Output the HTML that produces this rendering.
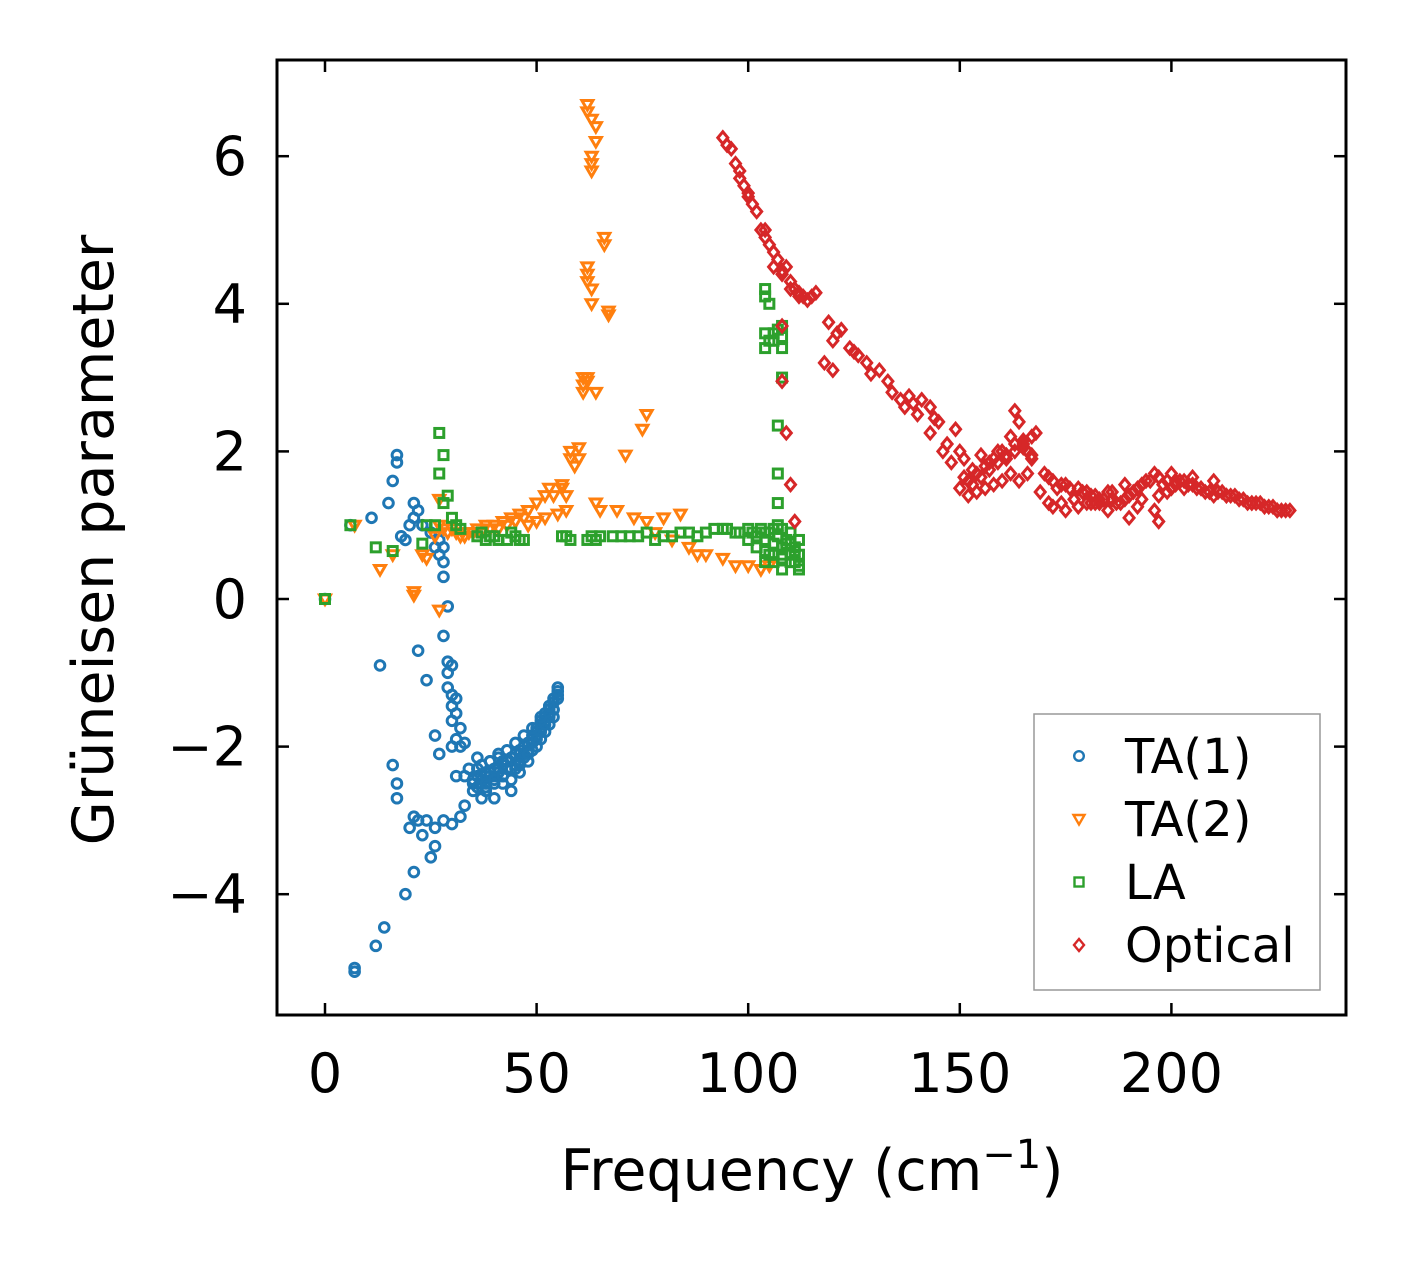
<!DOCTYPE html>
<html><head><meta charset="utf-8"><style>
html,body{margin:0;padding:0;background:#fff;}
svg text{font-family:"DejaVu Sans","Liberation Sans",sans-serif;fill:#000;}
</style></head><body>
<svg id="chart" width="1406" height="1264" viewBox="0 0 1406 1264" xmlns="http://www.w3.org/2000/svg">
<rect x="0" y="0" width="1406" height="1264" fill="#fff"/>
<g id="marks"></g>
<rect x="277" y="60" width="1069" height="955" fill="none" stroke="#000" stroke-width="3"/>
<g id="axes"></g>
<text x="812" y="1190" font-size="57" text-anchor="middle">Frequency (cm<tspan dy="-22" font-size="40">−1</tspan><tspan dy="22">)</tspan></text>
<text transform="translate(113,540) rotate(-90)" font-size="57" text-anchor="middle">Grüneisen parameter</text>
<g>
<rect x="1034" y="714" width="286" height="276" fill="#fff" stroke="#999" stroke-width="1.5"/>
<g id="legend"></g>
</g>
</svg>
<script>
const xTicks=[0,50,100,150,200];
const yTicks=[-4,-2,0,2,4,6];
const seriesNames=["TA(1)","TA(2)","LA","Optical"];
const seriesColors=["#1f77b4","#ff7f0e","#2ca02c","#d62728"];
const ta1X=[0,6,11,15,16,17,17,18,19,20,21,21,22,23,25,26,27,27,28,28,28,29,28,29,30,29,30,31,30,30,31,32,27,26,22,24,13,16,17,17,21,20,22,24,23,26,28,30,32,33,25,26,21,19,14,12,7,7,31,33,35,35,37,38,36,40,40,42,44,42,45,46,47,48,49,50,51,52,53,54,55,55,50,52,53,48,45,43,41,39,38,44,46,47,49,51,54,36,34,37,39,41,43,45,47,49,51,53,50,52,48,46,44,42,40,38,54,55,53,51,
35,36,37,38,39,40,41,42,43,44,45,46,47,48,49,50,51,52,53,54,36,38,40,42,44,46,48,50,52,54,37,39,41,43,45,47,49,51,53,55,29,30,31,32,33];
const ta1Y=[0,1,1.1,1.3,1.6,1.95,1.85,0.85,0.8,1.0,1.1,1.3,1.2,1.0,0.9,0.7,0.8,0.6,0.5,0.7,0.3,-0.1,-0.5,-0.85,-0.9,-1.2,-1.3,-1.35,-1.65,-2.0,-1.9,-2.0,-2.1,-1.85,-0.7,-1.1,-0.9,-2.25,-2.5,-2.7,-2.95,-3.1,-3.0,-3.0,-3.2,-3.1,-3.0,-3.05,-2.95,-2.8,-3.5,-3.35,-3.7,-4.0,-4.45,-4.7,-5.0,-5.05,-2.4,-2.4,-2.5,-2.6,-2.7,-2.6,-2.3,-2.7,-2.4,-2.5,-2.6,-2.2,-2.3,-2.1,-2.0,-2.2,-1.9,-1.8,-1.7,-1.6,-1.5,-1.4,-1.3,-1.2,-2.0,-1.8,-1.7,-1.95,-2.1,-2.3,-2.1,-2.2,-2.35,-2.45,-2.35,-2.15,-2.05,-1.9,-1.6,-2.15,-2.3,-2.5,-2.4,-2.35,-2.2,-2.25,-2.1,-1.95,-1.75,-1.6,-1.85,-1.65,-2.05,-2.2,-2.3,-2.4,-2.5,-2.55,-1.5,-1.35,-1.55,-1.8,
-2.45,-2.4,-2.45,-2.4,-2.35,-2.3,-2.3,-2.25,-2.2,-2.15,-2.1,-2.05,-2.0,-1.95,-1.85,-1.75,-1.65,-1.55,-1.45,-1.35,-2.55,-2.5,-2.45,-2.4,-2.3,-2.25,-2.1,-1.9,-1.7,-1.5,-2.25,-2.2,-2.15,-2.05,-1.95,-1.85,-1.75,-1.6,-1.45,-1.25,-1.0,-1.45,-1.55,-1.75,-1.95];
const ta2X=[0,7,13,16,21,21,23,24,26,27,27,27,28,30,32,34,36,38,40,42,44,46,48,50,52,53,48,50,52,55,57,56,58,58,60,61,61,62,62,62,63,63,63,62,63,64,64,64,65,66,67,69,71,75,76,73,76,80,84,78,82,86,88,90,94,97,100,103,105,
62,62,63,63,64,61,62,57,59,66,67,60,56,54,47,45,43,41,39,37,35,33,31,29];
const ta2Y=[0,1.0,0.4,0.6,0.1,0.05,0.6,0.55,0.85,1.0,1.35,-0.15,0.95,0.95,0.85,0.9,0.95,1.0,1.0,1.05,1.1,1.15,1.2,1.3,1.4,1.5,1.0,1.05,1.1,1.15,1.2,1.5,1.9,2.0,2.05,2.8,3.0,3.0,4.3,4.5,4.0,5.8,6.0,6.7,6.5,6.4,2.8,1.3,1.2,4.8,3.9,1.2,1.95,2.3,2.5,1.1,1.05,1.1,1.15,0.9,0.8,0.7,0.6,0.6,0.55,0.45,0.45,0.4,0.45,
6.6,4.4,5.9,4.2,6.2,2.9,2.95,1.4,1.8,4.9,3.85,1.9,1.55,1.4,1.1,1.05,1.0,0.95,0.95,0.9,0.9,0.85,0.9,0.9];
const laX=[0,6,12,16,23,24,26,27,28,27,28,29,30,31,32,36,38,40,43,45,47,57,58,63,64,70,72,74,78,82,86,88,90,92,95,98,100,102,104,106,108,110,111,112,108,106,104,106,108,110,112,112,104,105,104,105,104,106,108,108,108,107,107,107,107,109,111,103,105,
37,39,41,44,46,56,62,65,68,76,80,84,94,97,101,103,105,107,109,111,102,104,106,108,110,112,100,104,108,110,104,106,107,108];
const laY=[0,1.0,0.7,0.65,0.75,1.0,1.0,2.25,1.95,1.7,1.3,1.4,1.1,1.0,0.95,0.85,0.8,0.85,0.8,0.85,0.8,0.85,0.8,0.85,0.8,0.85,0.85,0.85,0.8,0.85,0.9,0.85,0.9,0.95,0.95,0.9,0.95,0.85,0.8,0.75,0.7,0.6,0.5,0.4,0.4,0.5,0.9,0.95,0.95,0.9,0.8,0.6,4.2,4.0,3.6,3.5,3.4,3.5,3.7,3.4,3.0,2.35,1.7,1.3,1.0,0.8,0.7,0.9,0.6,
0.9,0.85,0.8,0.9,0.8,0.85,0.8,0.85,0.85,0.9,0.85,0.9,0.95,0.9,0.9,0.95,0.9,0.85,0.75,0.65,0.7,0.65,0.6,0.55,0.5,0.45,0.8,0.5,0.6,0.75,4.1,3.6,3.65,3.55];
const opX=[94,96,97,98,99,100,101,103,104,105,106,107,108,109,110,111,112,114,115,108,108,109,110,111,119,120,121,118,120,124,126,129,131,134,136,137,140,141,143,145,143,147,149,150,151,150,152,154,156,158,160,162,163,164,165,166,167,168,166,164,162,160,158,156,154,152,170,172,175,178,180,182,184,172,175,178,182,185,188,190,192,194,196,198,196,197,200,202,204,206,208,210,212,214,216,218,220,222,224,226,228,200,205,210,192,186,190,153,157,161,165,169,173,177,181,185,189,193,197,201,207,213,219,225,
95,98,100,102,104,106,108,110,112,113,116,122,125,128,133,138,139,144,146,148,151,153,155,157,159,161,163,165,167,155,159,163,167,171,174,176,179,181,183,187,189,191,193,195,197,199,201,203,205,207,209,211,213,215,217,219,221,223,225,227,199,203,171,174,177,180,183,186];
const opY=[6.25,6.1,5.9,5.7,5.6,5.5,5.35,5.0,4.9,4.8,4.5,4.6,4.45,4.5,4.3,4.2,4.1,4.05,4.1,3.7,2.95,2.25,1.55,1.05,3.75,3.5,3.6,3.2,3.1,3.4,3.3,3.05,3.1,2.8,2.7,2.6,2.5,2.7,2.6,2.4,2.25,2.1,2.3,2.0,1.9,1.5,1.6,1.7,1.8,1.9,2.0,2.2,2.55,2.4,2.1,2.0,1.9,2.25,1.7,1.6,1.7,1.6,1.55,1.5,1.45,1.4,1.7,1.6,1.55,1.5,1.45,1.4,1.35,1.25,1.2,1.25,1.3,1.2,1.3,1.4,1.5,1.6,1.7,1.55,1.2,1.05,1.5,1.6,1.55,1.5,1.45,1.4,1.45,1.4,1.35,1.3,1.3,1.25,1.25,1.2,1.2,1.7,1.65,1.6,1.25,1.45,1.1,1.75,1.85,1.95,2.05,1.45,1.5,1.35,1.3,1.45,1.55,1.35,1.4,1.6,1.5,1.4,1.3,1.2,
6.15,5.8,5.45,5.25,5.0,4.7,4.4,4.2,4.15,4.1,4.15,3.65,3.35,3.2,2.95,2.75,2.65,2.45,2.0,1.85,1.65,1.55,1.65,1.75,1.85,1.9,2.0,2.15,2.2,1.95,2.0,2.1,1.95,1.65,1.55,1.5,1.45,1.4,1.35,1.3,1.35,1.45,1.55,1.6,1.65,1.6,1.55,1.6,1.55,1.5,1.45,1.45,1.4,1.4,1.35,1.3,1.3,1.25,1.2,1.2,1.45,1.5,1.3,1.3,1.35,1.3,1.3,1.35];

const NS="http://www.w3.org/2000/svg";
const xs=v=>325+v*4.232;
const ys=v=>599-v*73.8;
function mk(tag,attrs,parent){const e=document.createElementNS(NS,tag);for(const k in attrs)e.setAttribute(k,attrs[k]);parent.appendChild(e);return e;}
function marker(type,cx,cy,color,parent,sw){
  let e;
  if(type===0){e=mk('circle',{cx:cx,cy:cy,r:4.8,fill:'none',stroke:color,'stroke-width':sw},parent);}
  else if(type===1){e=mk('polygon',{points:`${cx-5.5},${cy-4} ${cx+5.5},${cy-4} ${cx},${cy+5.5}`,fill:'none',stroke:color,'stroke-width':sw},parent);}
  else if(type===2){e=mk('rect',{x:cx-4.5,y:cy-4.5,width:9,height:9,fill:'none',stroke:color,'stroke-width':sw},parent);}
  else {e=mk('polygon',{points:`${cx},${cy-6} ${cx+5},${cy} ${cx},${cy+6} ${cx-5},${cy}`,fill:'none',stroke:color,'stroke-width':sw},parent);}
  return e;
}
const marks=document.getElementById('marks');
const allX=[ta1X,ta2X,laX,opX], allY=[ta1Y,ta2Y,laY,opY];
const names=['ta1','ta2','la','optical'];
for(let s=0;s<4;s++){
  const g=mk('g',{},marks);
  
  
  for(let i=0;i<allX[s].length;i++){
    const m=marker(s,xs(allX[s][i]),ys(allY[s][i]),seriesColors[s],g,3);
    
    
  }
}
const axes=document.getElementById('axes');
xTicks.forEach(t=>{
  const x=xs(t);
  mk('line',{x1:x,y1:1015,x2:x,y2:1003,stroke:'#000','stroke-width':2.5},axes);
  mk('line',{x1:x,y1:60,x2:x,y2:72,stroke:'#000','stroke-width':2.5},axes);
  const tx=mk('text',{x:x,y:1092,'font-size':54,'text-anchor':'middle'},axes);
  tx.textContent=String(t);
  
  
});
yTicks.forEach(t=>{
  const y=ys(t);
  mk('line',{x1:277,y1:y,x2:289,y2:y,stroke:'#000','stroke-width':2.5},axes);
  mk('line',{x1:1346,y1:y,x2:1334,y2:y,stroke:'#000','stroke-width':2.5},axes);
  const tx=mk('text',{x:247,y:y+19,'font-size':54,'text-anchor':'end'},axes);
  tx.textContent=(t<0?'−':'')+Math.abs(t);
  
  
});
const leg=document.getElementById('legend');
seriesNames.forEach((n,i)=>{
  const y=756+i*63;
  const g=mk('g',{},leg);
  
  
  marker(i,1079,y,seriesColors[i],g,2.4);
  const t=mk('text',{x:1125,y:y+17,'font-size':48},g);
  t.textContent=n;
});
</script>
</body></html>
